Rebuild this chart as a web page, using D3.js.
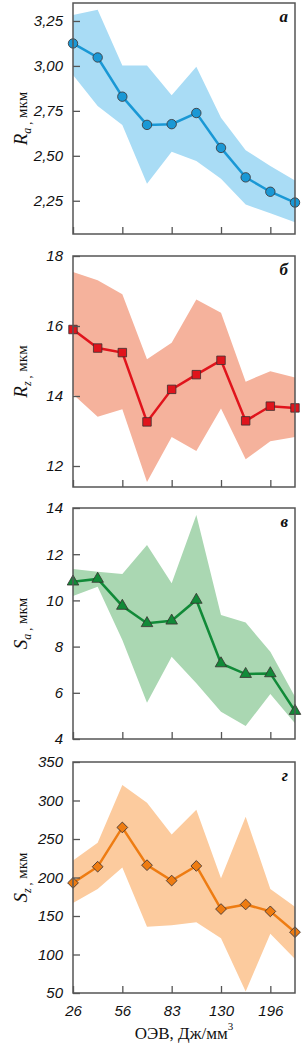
<!DOCTYPE html>
<html>
<head>
<meta charset="utf-8">
<script src="https://cdn.jsdelivr.net/npm/d3@7"></script>
<style>
  body { margin: 0; background: #fff; }
  svg { display: block; }
</style>
</head>
<body>
<div id="chart"></div>
<script>
// OEV categories (index positions), only every second one is labelled
const categories = ["26", "", "56", "", "83", "", "130", "", "196", ""];

// panel a: Ra, mkm
const ra_mean  = [3.125, 3.047, 2.829, 2.672, 2.676, 2.738, 2.544, 2.380, 2.300, 2.240];
const ra_upper = [3.283, 3.313, 3.002, 3.002, 2.837, 2.996, 2.711, 2.531, 2.443, 2.363];
const ra_lower = [2.950, 2.777, 2.671, 2.345, 2.522, 2.471, 2.373, 2.229, 2.181, 2.131];
const ra_ticks = [2.25, 2.50, 2.75, 3.00, 3.25];

// panel b: Rz, mkm
const rz_mean  = [15.90, 15.37, 15.24, 13.26, 14.19, 14.61, 15.02, 13.29, 13.71, 13.66];
const rz_upper = [17.54, 17.31, 16.91, 15.05, 15.52, 16.76, 16.38, 14.41, 14.71, 14.53];
const rz_lower = [14.05, 13.41, 13.62, 11.54, 12.83, 12.43, 13.64, 12.19, 12.71, 12.83];
const rz_ticks = [12, 14, 16, 18];

// panel c: Sa, mkm
const sa_mean  = [10.81, 10.93, 9.76, 9.01, 9.12, 10.02, 7.27, 6.81, 6.84, 5.21];
const sa_upper = [11.36, 11.24, 11.14, 12.40, 10.74, 13.70, 9.37, 9.04, 7.78, 5.83];
const sa_lower = [10.19, 10.59, 8.29, 5.57, 7.56, 6.41, 5.18, 4.56, 5.95, 4.68];
const sa_ticks = [4, 6, 8, 10, 12, 14];

// panel d: Sz, mkm
const sz_mean  = [193, 214, 265, 216, 196, 215, 159, 165, 156, 129];
const sz_upper = [222, 245, 320, 297, 256, 288, 199, 279, 185, 162];
const sz_lower = [167, 185, 213, 136, 138, 142, 121, 52, 127, 94];
const sz_ticks = [50, 100, 150, 200, 250, 300, 350];

const width = 302, height = 1054;
const left = 73, right = 295;
const panel_h = 231;

const panels = [
  {top: 3,   domain: [2.065, 3.35], ticks: ra_ticks, fmt: d => d3.format(".2f")(d).replace(".", ","),
   mean: ra_mean, upper: ra_upper, lower: ra_lower, sub: "a", letter: "а",
   band: "#a9dcf5", line: "#1a98d5", marker: "circle", R: true},
  {top: 256, domain: [11.4, 18],    ticks: rz_ticks, fmt: d => d,
   mean: rz_mean, upper: rz_upper, lower: rz_lower, sub: "z", letter: "б",
   band: "#f5b29c", line: "#e0141c", marker: "square", R: true},
  {top: 508, domain: [4, 14],       ticks: sa_ticks, fmt: d => d,
   mean: sa_mean, upper: sa_upper, lower: sa_lower, sub: "a", letter: "в",
   band: "#aad7b2", line: "#118a38", marker: "triangle", R: false},
  {top: 762, domain: [50, 350],     ticks: sz_ticks, fmt: d => d,
   mean: sz_mean, upper: sz_upper, lower: sz_lower, sub: "z", letter: "г",
   band: "#fccb9e", line: "#ee7c12", marker: "diamond", R: false}
];

const svg = d3.select("#chart").append("svg")
  .attr("width", width)
  .attr("height", height);

const x = d3.scaleLinear().domain([0, categories.length - 1]).range([left, right]);

const symbols = {
  circle: d3.symbol().type(d3.symbolCircle).size(70),
  square: d3.symbol().type(d3.symbolSquare).size(72),
  triangle: d3.symbol().type(d3.symbolTriangle).size(58),
  diamond: d3.symbol().type(d3.symbolSquare).size(58)
};

panels.forEach(function(p, pi) {
  let y = d3.scaleLinear().domain(p.domain).range([p.top + panel_h, p.top]);
  let g = svg.append("g");

  // band between upper and lower values
  let area = d3.area()
    .x((d, i) => x(i))
    .y0((d, i) => y(p.lower[i]))
    .y1((d, i) => y(p.upper[i]));
  g.append("path")
    .datum(p.mean)
    .attr("fill", p.band)
    .attr("d", area);

  // mean line
  let line = d3.line()
    .x((d, i) => x(i))
    .y(d => y(d));
  g.append("path")
    .datum(p.mean)
    .attr("fill", "none")
    .attr("stroke", p.line)
    .attr("stroke-width", 2.5)
    .attr("d", line);

  // markers
  g.selectAll(".mk")
    .data(p.mean)
    .enter().append("path")
    .attr("class", "mk")
    .attr("d", symbols[p.marker])
    .attr("transform", function(d, i) {
      let rot = p.marker === "diamond" ? " rotate(45)" : "";
      return "translate(" + x(i) + "," + y(d) + ")" + rot;
    })
    .attr("fill", p.line)
    .attr("stroke", "#3a3030")
    .attr("stroke-width", 0.8);

  // frame
  g.append("rect")
    .attr("x", left)
    .attr("y", p.top)
    .attr("width", right - left)
    .attr("height", panel_h)
    .attr("fill", "none")
    .attr("stroke", "#555")
    .attr("stroke-width", 1.5);

  // y axis with inner ticks
  let yAxis = d3.axisLeft(y)
    .tickValues(p.ticks)
    .tickFormat(p.fmt)
    .tickSize(-7)
    .tickPadding(10);
  let ya = g.append("g")
    .attr("transform", "translate(" + left + ",0)")
    .call(yAxis);
  ya.select(".domain").remove();
  ya.selectAll("line").attr("stroke", "#555").attr("stroke-width", 1.3);
  ya.selectAll("text")
    .attr("font-family", "'Liberation Sans', Arial, sans-serif")
    .attr("font-style", "italic")
    .attr("font-size", 15)
    .attr("fill", "#111");

  // x axis with inner ticks
  let last = pi === panels.length - 1;
  let xAxis = d3.axisBottom(x)
    .tickValues([0, 2, 4, 6, 8])
    .tickFormat(i => last ? categories[i] : "")
    .tickSize(-7)
    .tickPadding(12);
  let xa = g.append("g")
    .attr("transform", "translate(0," + (p.top + panel_h) + ")")
    .call(xAxis);
  xa.select(".domain").remove();
  xa.selectAll("line").attr("stroke", "#555").attr("stroke-width", 1.3);
  xa.selectAll("text")
    .attr("font-family", "'Liberation Sans', Arial, sans-serif")
    .attr("font-style", "italic")
    .attr("font-size", 15)
    .attr("fill", "#111");

  // y axis title
  let label = g.append("text")
    .attr("transform", "translate(27," + (p.top + panel_h / 2) + ") rotate(-90)")
    .attr("text-anchor", "middle")
    .attr("font-family", "'Liberation Serif', 'Times New Roman', serif")
    .attr("fill", "#111");
  label.append("tspan")
    .attr("font-style", "italic")
    .attr("font-size", 19)
    .text(p.R ? "R" : "S");
  label.append("tspan")
    .attr("font-style", "italic")
    .attr("font-size", 12)
    .attr("dy", 4)
    .text(p.sub + " ,");
  label.append("tspan")
    .attr("font-size", 15)
    .attr("dy", -4)
    .text(" мкм");

  // panel letter
  g.append("text")
    .attr("x", 288)
    .attr("y", p.top + 19)
    .attr("text-anchor", "end")
    .attr("font-family", "'Liberation Serif', 'Times New Roman', serif")
    .attr("font-style", "italic")
    .attr("font-weight", "bold")
    .attr("font-size", 17)
    .attr("fill", "#111")
    .text(p.letter);
});

// x axis title
let xt = svg.append("text")
  .attr("x", (left + right) / 2)
  .attr("y", 1039)
  .attr("text-anchor", "middle")
  .attr("font-family", "'Liberation Serif', 'Times New Roman', serif")
  .attr("font-size", 17)
  .attr("fill", "#111");
xt.append("tspan").text("ОЭВ, Дж/мм");
xt.append("tspan").attr("font-size", 11).attr("dy", -9).text("3");
</script>
</body>
</html>
